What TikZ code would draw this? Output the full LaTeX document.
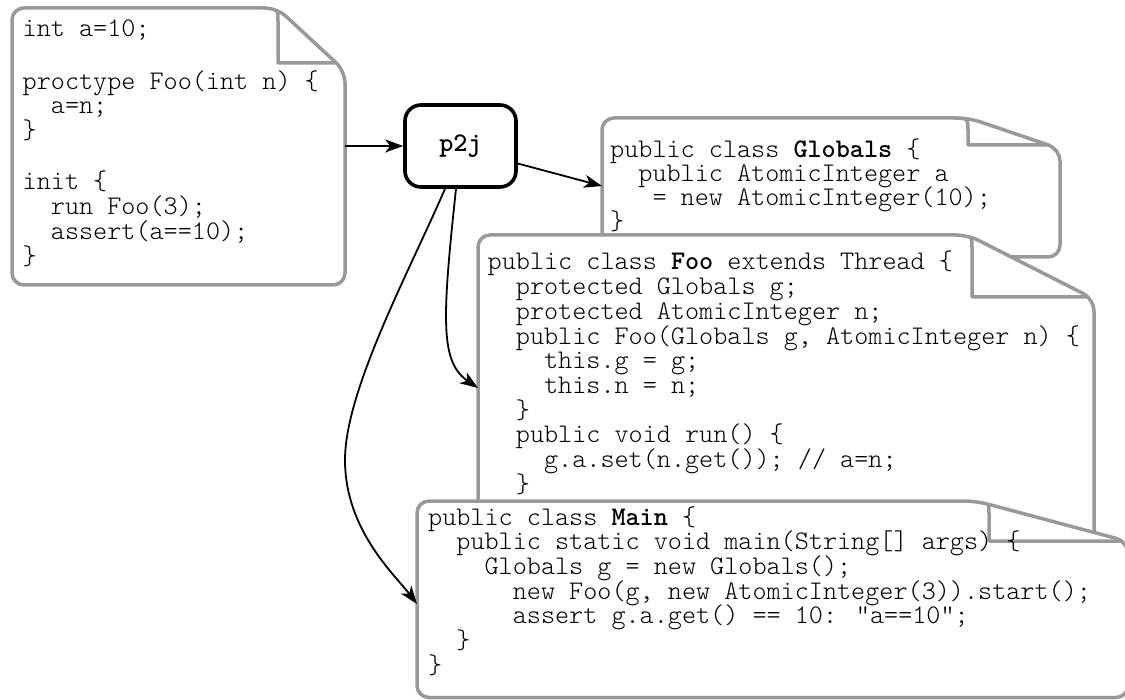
\documentclass[tikz,border=0pt]{standalone}
\usepackage{fontspec}
\usetikzlibrary{arrows.meta,calc}
\definecolor{pagegray}{gray}{0.6}

% light typewriter face sized so that one character advances 14.1pt
\newcommand\codesize{\ttfamily\fontseries{l}\fontsize{26.86pt}{24.7pt}\selectfont}

\tikzset{
  pageline/.style={draw=pagegray, line width=3.5pt, line join=round},
  code/.style={font=\codesize, inner sep=0pt, anchor=base west, text height=16pt, text depth=5pt},
  tool/.style={draw=black, fill=white, line width=3.6pt, rounded corners=16pt,
    minimum width=111pt, minimum height=82pt, inner sep=0pt,
    font=\codesize\bfseries},
  flow/.style={draw=black, line width=1.8pt, -{Stealth[length=18pt,width=13pt,inset=5pt]}},
  area/.style={draw=none, inner sep=0pt, outer sep=0pt},
}

% A source file: a rounded sheet whose top right corner is folded over.
% #1 name, #2 left, #3 top, #4 right, #5 bottom,
% #6 x where the top edge turns into the fold, #7 y where the fold meets the right edge,
% #8 x of the crease, #9 y of the crease
\newcommand\sourcepage[9]{%
  \node[area, anchor=north west, minimum width=#4pt-#2pt, minimum height=#5pt-#3pt] (#1) at (#2,#3) {};
  \fill[white, rounded corners=12pt] ({(#2+#6)/2},#3) -- (#2,#3) -- (#2,#5) -- (#4,#5) -- (#4,#7) -- (#6,#3) -- cycle;
  \begin{scope}
    \clip[rounded corners=12pt] ({(#2+#6)/2},#3) -- (#2,#3) -- (#2,#5) -- (#4,#5) -- (#4,#7) -- (#6,#3) -- cycle;
    \draw[pageline] ({#8-15},#3) .. controls (#8,#3) .. (#8,{#3+15}) -- (#8,#9) -- ({#4+6},#9);
  \end{scope}
  \draw[pageline, rounded corners=12pt] ({(#2+#6)/2},#3) -- (#2,#3) -- (#2,#5) -- (#4,#5) -- (#4,#7) -- (#6,#3) -- cycle;
}

\begin{document}
\begin{tikzpicture}[x=1pt, y=-1pt]
  \useasboundingbox (0,0) rectangle (1125,700);
  \clip (0,0) rectangle (1125,700);

  % Promela model
  \sourcepage{pml}{12}{8}{345}{285}{277}{71}{278}{63}
  \foreach \yy/\codeln [count=\k] in {37/{int a=10;}, 90/{proctype Foo(int n) \{}, 114/{~~a=n;},
      139/{\}}, 190/{init \{}, 215/{~~run Foo(3);}, 240/{~~assert(a==10);}, 265/{\}}}
    \node[code] (pml-\k) at (22.5,\yy) {\codeln};

  % translator
  \node[tool] (p2j) at (460.5,146) {p2j};

  % generated Java classes
  \sourcepage{glob}{602}{118}{1060}{257}{969}{149}{968}{145}
  \foreach \yy/\codeln [count=\k] in {158/{public class \textbf{Globals} \{}, 182/{~~public AtomicInteger a},
      206/{~~~= new AtomicInteger(10);}, 230/{\}}}
    \node[code] (glob-\k) at (610,\yy) {\codeln};

  \sourcepage{foo}{478}{235}{1094}{600}{968}{299}{972}{297}
  \foreach \yy/\codeln [count=\k] in {270/{public class \textbf{Foo} extends Thread \{},
      294.7/{~~protected Globals g;}, 319.4/{~~protected AtomicInteger n;},
      344.1/{~~public Foo(Globals g, AtomicInteger n) \{}, 368.8/{~~~~this.g = g;},
      393.5/{~~~~this.n = n;}, 418.2/{~~\}}, 442.9/{~~public void run() \{},
      467.6/{~~~~g.a.set(n.get()); // a=n;}, 492.3/{~~\}}}
    \node[code] (foo-\k) at (487.5,\yy) {\codeln};

  \sourcepage{main}{417}{501}{1128}{697.5}{976}{541.5}{989}{541}
  \foreach \yy/\codeln [count=\k] in {525/{public class \textbf{Main} \{},
      549.7/{~~public static void main(String[] args) \{}, 574.4/{~~~~Globals g = new Globals();},
      599.1/{~~~~~~new Foo(g, new AtomicInteger(3)).start();},
      623.8/{~~~~~~assert g.a.get() == 10: "a==10";}, 648.5/{~~\}}, 673.2/{\}}}
    \node[code] (main-\k) at (428,\yy) {\codeln};

  % connectors
  \coordinate (globIn) at ($(glob.north west)+(0,68)$);
  \coordinate (fooIn) at ($(foo.north west)+(0,153)$);
  \coordinate (mainIn) at ($(main.north west)+(0,103)$);

  \draw[flow] (p2j.west -| pml.east) -- (p2j.west);
  \draw[flow] (p2j.-17) -- (globIn);
  \draw[flow] ($(p2j.south)+(-4.5,0)$) .. controls (442,320) and (440,362) .. (fooIn);
  \draw[flow] ($(p2j.south)+(-15.5,0)$) .. controls (410,270) and (345,390) .. (345,460)
              .. controls (345,530) and (395,575) .. (mainIn);
\end{tikzpicture}
\end{document}
